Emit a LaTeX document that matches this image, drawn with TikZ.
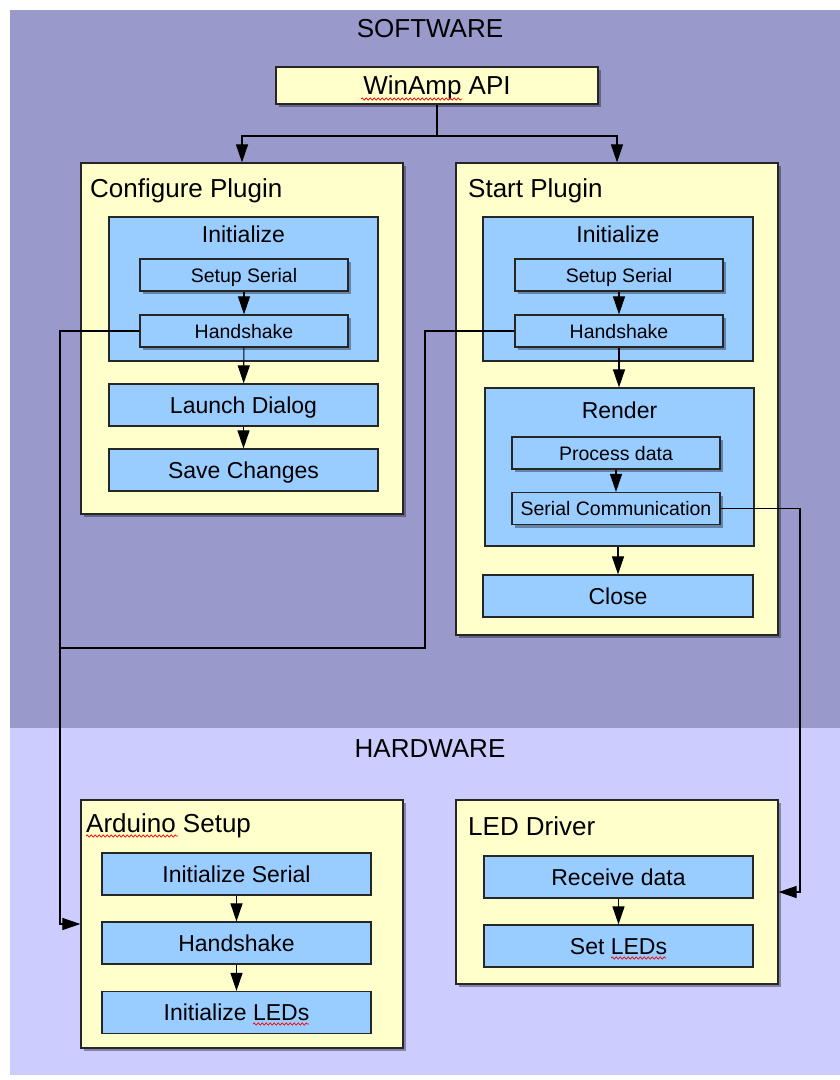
\documentclass[tikz,border=0pt]{standalone}
\usepackage{fontspec}
\setmainfont{Liberation Sans}
\usetikzlibrary{arrows.meta,shadows,decorations.pathmorphing}
\usepackage{xcolor}

\definecolor{softbg}{HTML}{9999CC}
\definecolor{hardbg}{HTML}{CCCCFF}
\definecolor{plugfill}{HTML}{FFFFCC}
\definecolor{stepfill}{HTML}{99CCFF}

\tikzset{
    bandtitle/.style={anchor=base, inner sep=0pt, font=\fontsize{26}{30}\selectfont},
    shadowed/.style={drop shadow={shadow xshift=3pt, shadow yshift=-3pt, fill=black, opacity=0.35}},
    pluginbox/.style={draw=black!85, line width=1.2pt, fill=plugfill, shadowed},
    plugtitle/.style={anchor=base west, inner sep=0pt, font=\fontsize{26}{30}\selectfont},
    groupbox/.style={draw=black!85, line width=1.2pt, fill=stepfill, inner sep=2pt, text depth=0pt},
    grouplabel/.style={anchor=base, inner sep=0pt, font=\fontsize{23}{27}\selectfont},
    bigstep/.style={groupbox, minimum width=269pt, minimum height=42pt, text height=16.5pt,
        font=\fontsize{23}{27}\selectfont},
    smallstep/.style={groupbox, shadowed, minimum width=208pt, minimum height=32pt, text height=14pt,
        font=\fontsize{19.5}{23}\selectfont},
    flow/.style={-{Triangle[width=12pt,length=18pt]}, line width=1.1pt},
    spellwave/.style={red, line width=0.7pt, decorate, decoration={snake, amplitude=1.1pt, segment length=4pt}},
}

\begin{document}
\begin{tikzpicture}[x=1pt, y=-1pt]
    \useasboundingbox (0,0) rectangle (840,1080);
    % Bands
    \fill[white] (0,0) rectangle (840,1080);
    \fill[softbg] (10,10) rectangle (840,728);
    \fill[hardbg] (10,728) rectangle (840,1075);
    \node[bandtitle] (software) at (430,37) {SOFTWARE};
    \node[bandtitle] (hardware) at (430,757) {HARDWARE};

    % WinAmp API
    \node[pluginbox, inner sep=2pt, text height=18.6pt, text depth=0pt,
        minimum width=322pt, minimum height=37pt, font=\fontsize{26}{30}\selectfont]
        (api) at (437,85.5) {WinAmp API};

    % Configure Plugin
    \node[pluginbox, minimum width=322pt, minimum height=351pt] (cfg) at (242,338.5) {};
    \node[plugtitle] (cfgtitle) at (90,197) {Configure Plugin};
    \node[groupbox, minimum width=269pt, minimum height=144pt] (cfginit) at (243.5,289) {};
    \node[grouplabel] (cfginitlabel) at (243.5,242) {Initialize};
    \node[smallstep] (cfgsetup) at (244,275) {Setup Serial};
    \node[smallstep] (cfgshake) at (244,331) {Handshake};
    \node[bigstep] (cfglaunch) at (243.5,405) {Launch Dialog};
    \node[bigstep] (cfgsave) at (243.5,470) {Save Changes};

    % Start Plugin
    \node[pluginbox, minimum width=322pt, minimum height=472pt] (st) at (617,399) {};
    \node[plugtitle] (sttitle) at (468,197) {Start Plugin};
    \node[groupbox, minimum width=270pt, minimum height=144pt] (stinit) at (618,289) {};
    \node[grouplabel] (stinitlabel) at (618,242) {Initialize};
    \node[smallstep] (stsetup) at (619,275) {Setup Serial};
    \node[smallstep] (stshake) at (619,331) {Handshake};
    \node[groupbox, minimum width=269pt, minimum height=158pt] (strender) at (619.5,467) {};
    \node[grouplabel] (strenderlabel) at (619.5,418) {Render};
    \node[smallstep] (stproc) at (616,453) {Process data};
    \node[smallstep] (stcomm) at (616,508.5) {Serial Communication};
    \node[bigstep, minimum width=270pt] (stclose) at (618,596) {Close};

    % Arduino Setup
    \node[pluginbox, minimum width=322pt, minimum height=248pt] (ard) at (242,924) {};
    \node[plugtitle] (ardtitle) at (86,832) {Arduino Setup};
    \node[bigstep] (ardserial) at (236.5,874) {Initialize Serial};
    \node[bigstep] (ardshake) at (236.5,943) {Handshake};
    \node[bigstep] (ardleds) at (236.5,1012.5) {Initialize LEDs};

    % LED Driver
    \node[pluginbox, minimum width=322pt, minimum height=184pt] (led) at (617,892) {};
    \node[plugtitle] (ledtitle) at (468,835) {LED Driver};
    \node[bigstep] (ledrecv) at (618.5,877) {Receive data};
    \node[bigstep] (ledset) at (618.5,946) {Set LEDs};

    % spell-check marks
    \draw[spellwave] (361,99) -- (462,99);
    \draw[spellwave] (86,836) -- (178,836);
    \draw[spellwave] (253,1024) -- (309,1024);
    \draw[spellwave] (611,958) -- (666,958);

    % Bends of the connectors
    \coordinate (split) at (437,136);
    \coordinate (lbus) at (60,648);
    \coordinate (rbend) at (425,648);
    \coordinate (rbus) at (800,700);

    % Arrows
    \draw[flow] (api.south) -- (split) -| (cfg.north);
    \draw[flow] (split) -| (st.north);
    \draw[flow] (cfgsetup) -- (cfgshake);
    \draw[flow] (cfgshake) -- (cfglaunch);
    \draw[flow] (cfglaunch) -- (cfgsave);
    \draw[flow] (stsetup) -- (stshake);
    \draw[flow] (stshake.south) -- (stshake.south |- strender.north);
    \draw[flow] (stproc) -- (stcomm);
    \draw[flow] (strender.south -| stclose.north) -- (stclose.north);
    \draw[flow] (ardserial) -- (ardshake);
    \draw[flow] (ardshake) -- (ardleds);
    \draw[flow] (ledrecv) -- (ledset);
    \draw[flow] (cfgshake.west) -| (lbus) |- (ard.west);
    \draw[line width=1.1pt] (stshake.west) -| (rbend) -- (lbus);
    \draw[flow] (stcomm.east) -| (rbus) |- (led.east);
\end{tikzpicture}
\end{document}
